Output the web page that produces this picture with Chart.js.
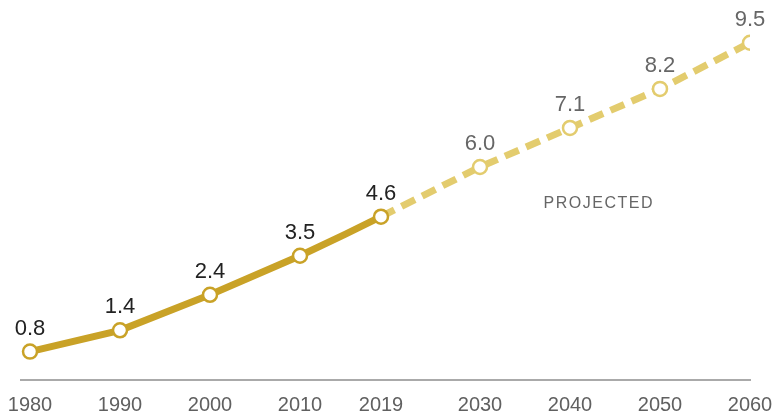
<!DOCTYPE html>
<html>
<head>
<meta charset="utf-8">
<script src="https://cdn.jsdelivr.net/npm/chart.js@4/dist/chart.umd.min.js"></script>
<style>
  html, body { margin: 0; padding: 0; background: #fff; }
  #wrap { width: 784px; height: 415px; position: relative; }
</style>
</head>
<body>
<div id="wrap"><canvas id="chart"></canvas></div>
<script>
// Historical series (2015 is an unmarked bend in the line)
const histYears = [1980, 1990, 2000, 2010, 2015, 2019];
const histValues = [0.8, 1.4, 2.4, 3.5, 4.1, 4.6];
const histMarked = [true, true, true, true, false, true];

// Projected series, starts where history ends
const projYears = [2019, 2030, 2040, 2050, 2060];
const projValues = [4.6, 6.0, 7.1, 8.2, 9.5];
const projMarked = [false, true, true, true, true];

// Years shown on the axis
const tickYears = [1980, 1990, 2000, 2010, 2019, 2030, 2040, 2050, 2060];

const SOLID = '#c9a227';
const LIGHT = '#e3cc6e';
const FONT = "'Liberation Sans', Arial, sans-serif";

function toPoints(xs, ys) {
    return xs.map((x, i) => ({ x: x, y: ys[i] }));
}

// Value labels above each marked point, plus the PROJECTED note
const labelPlugin = {
    id: 'valueLabels',
    afterDatasetsDraw(chart) {
        const ctx = chart.ctx;
        ctx.save();
        ctx.font = '22px ' + FONT;
        ctx.textAlign = 'center';
        ctx.textBaseline = 'alphabetic';
        chart.data.datasets.forEach((ds, di) => {
            const meta = chart.getDatasetMeta(di);
            meta.data.forEach((pt, i) => {
                if (!ds.marked[i]) return;
                ctx.fillStyle = ds.labelColor;
                ctx.fillText(ds.data[i].y.toFixed(1), pt.x, pt.y - 17);
            });
        });
        const xs = chart.scales.x, ys = chart.scales.y;
        ctx.font = '16px ' + FONT;
        ctx.letterSpacing = '1.5px';
        ctx.fillStyle = '#666';
        ctx.textBaseline = 'middle';
        ctx.fillText('PROJECTED', xs.getPixelForValue(2043.2), ys.getPixelForValue(4.97));
        ctx.restore();
    }
};

new Chart(document.getElementById('chart'), {
    type: 'line',
    data: {
        datasets: [
            {
                data: toPoints(histYears, histValues),
                marked: histMarked,
                labelColor: '#222',
                borderColor: SOLID,
                borderWidth: 7,
                pointRadius: histMarked.map(m => m ? 7 : 0),
                pointBackgroundColor: '#fff',
                pointBorderColor: SOLID,
                pointBorderWidth: 2.5,
                order: 0
            },
            {
                data: toPoints(projYears, projValues),
                marked: projMarked,
                labelColor: '#666',
                borderColor: LIGHT,
                borderWidth: 7,
                borderDash: [15, 8],
                pointRadius: projMarked.map(m => m ? 7 : 0),
                pointBackgroundColor: '#fff',
                pointBorderColor: LIGHT,
                pointBorderWidth: 2.5,
                order: 1
            }
        ]
    },
    options: {
        responsive: true,
        maintainAspectRatio: false,
        animation: false,
        layout: { padding: { left: 21, right: 34, top: 25, bottom: 0 } },
        plugins: {
            legend: { display: false },
            tooltip: { enabled: false }
        },
        scales: {
            x: {
                type: 'linear',
                min: 1979,
                max: 2060,
                afterBuildTicks: axis => {
                    axis.ticks = tickYears.map(v => ({ value: v }));
                },
                afterFit: axis => {
                    // fixed axis band, no label overhang padding
                    axis.height = 35;
                    axis.paddingLeft = 0;
                    axis.paddingRight = 0;
                },
                grid: { display: false, drawTicks: false },
                border: { display: true, color: '#aaa', width: 2 },
                ticks: {
                    padding: 13,
                    autoSkip: false,
                    maxRotation: 0,
                    color: '#606060',
                    font: { family: FONT, size: 20 },
                    callback: v => String(v)
                }
            },
            y: {
                display: false,
                min: 0,
                max: 10
            }
        }
    },
    plugins: [labelPlugin]
});
</script>
</body>
</html>
